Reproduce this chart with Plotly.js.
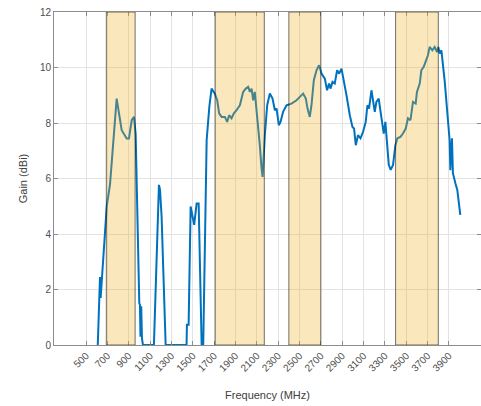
<!DOCTYPE html>
<html>
<head>
<meta charset="utf-8">
<script src="https://cdn.plot.ly/plotly-3.0.1.min.js"></script>
<style>
html,body{margin:0;padding:0;overflow:hidden;background:#fff;}
#chart{width:483px;height:406px;}
</style>
</head>
<body>
<div id="chart"></div>
<script>
// Frequency (MHz)
var freq = [610, 631, 637, 694, 725, 787, 834, 881, 902, 928, 949, 965, 999, 1005, 1010, 1017, 1024, 1033,
  1136, 1183, 1193, 1208, 1246, 1442, 1445, 1461, 1480, 1498, 1513, 1536, 1555, 1583, 1598, 1630, 1655, 1676,
  1707, 1729, 1747, 1770, 1801, 1822, 1841, 1863, 1885, 1910, 1941, 1972, 1997, 2019, 2035, 2051, 2066, 2081,
  2097, 2112, 2128, 2144, 2154, 2175, 2197, 2222, 2247, 2269, 2285, 2306, 2322, 2346, 2378, 2425, 2472, 2503,
  2534, 2559, 2575, 2596, 2612, 2634, 2659, 2683, 2706, 2737, 2758, 2777, 2790, 2809, 2830, 2852, 2871, 2893,
  2908, 2940, 2971, 2996, 3011, 3027, 3048, 3071, 3095, 3120, 3136, 3151, 3174, 3189, 3205, 3220, 3242, 3257,
  3276, 3289, 3304, 3320, 3336, 3354, 3376, 3398, 3417, 3445, 3469, 3495, 3516, 3539, 3563, 3588, 3600, 3626,
  3641, 3663, 3682, 3703, 3719, 3744, 3766, 3788, 3800, 3813, 3829, 3860, 3906, 3913, 3928, 3937, 3960, 3978, 4006];
// Gain (dBi)
var gain = [0, 2.45, 1.7, 5.0, 5.8, 8.88, 7.74, 7.44, 7.44, 8.1, 8.22, 7.6, 1.5, 1.45, 0.3, 1.4, 0.25, 0,
  0, 5.77, 5.6, 4.63, 0, 0, 0.73, 0.73, 4.99, 4.63, 4.33, 5.1, 5.1, 0, 0, 7.38, 8.58, 9.24,
  9.06, 8.82, 8.35, 8.22, 8.22, 8.04, 8.28, 8.17, 8.35, 8.46, 8.64, 9.12, 9.24, 9.3, 9.12, 9.24, 8.82, 9.12,
  8.52, 7.86, 7.2, 6.37, 6.06, 7.56, 8.64, 9.06, 8.88, 8.46, 8.52, 7.92, 8.04, 8.4, 8.64, 8.7, 8.82, 8.94,
  9.06, 8.88, 8.52, 8.22, 8.64, 9.54, 9.9, 10.08, 9.78, 9.6, 9.18, 9.42, 9.24, 9.48, 9.42, 9.9, 9.78, 9.96,
  9.6, 9.0, 8.28, 7.86, 7.8, 7.2, 7.56, 7.45, 7.68, 8.04, 8.64, 8.52, 9.18, 8.7, 8.4, 8.76, 8.88, 8.46,
  8.04, 7.62, 8.04, 7.2, 6.49, 6.31, 6.49, 7.2, 7.45, 7.5, 7.62, 7.8, 8.17, 8.1, 8.76, 8.7, 9.12, 9.42,
  9.9, 10.02, 10.2, 10.44, 10.74, 10.62, 10.74, 10.56, 10.74, 10.5, 10.62, 9.5, 7.38, 6.3, 7.45, 6.19, 5.83, 5.59, 4.69];
// Highlighted bands (MHz)
var bandStart = [690, 1710, 2400, 3400];
var bandEnd = [960, 2170, 2700, 3800];
// Tick labels
var xTicks = [500, 700, 900, 1100, 1300, 1500, 1700, 1900, 2100, 2300, 2500, 2700, 2900, 3100, 3300, 3500, 3700, 3900];
var yTicks = [0, 2, 4, 6, 8, 10, 12];

var shapes = bandStart.map(function(s, i) {
  return {
    type: 'rect', xref: 'x', yref: 'y', x0: s, x1: bandEnd[i], y0: 0, y1: 12,
    fillcolor: 'rgba(237,177,32,0.3)', line: {color: 'rgba(0,0,0,0.55)', width: 1}, layer: 'above'
  };
});

var trace = {
  x: freq, y: gain, type: 'scatter', mode: 'lines',
  line: {color: '#0072BD', width: 2}, hoverinfo: 'skip'
};

var axisCommon = {
  showline: true, linecolor: '#8c8c8c', linewidth: 1, mirror: 'ticks',
  ticks: 'inside', ticklen: 4, tickcolor: '#8c8c8c',
  showgrid: true, gridcolor: '#e3e3e3', gridwidth: 1, zeroline: false,
  tickfont: {family: 'Liberation Sans, Arial, sans-serif', size: 10, color: '#4d4d4d'}
};

var layout = {
  width: 483, height: 406,
  margin: {l: 54, r: 2, t: 12, b: 61},
  paper_bgcolor: '#ffffff', plot_bgcolor: '#ffffff',
  showlegend: false,
  shapes: shapes
};
layout.xaxis = Object.assign({}, axisCommon, {
  range: [200, 4200], tickmode: 'array', tickvals: xTicks, ticktext: xTicks.map(String),
  tickangle: -45,
  title: {text: 'Frequency (MHz)', font: {family: 'Liberation Sans, Arial, sans-serif', size: 11, color: '#404040'}, standoff: 18}
});
layout.yaxis = Object.assign({}, axisCommon, {
  range: [0, 12], tickmode: 'array', tickvals: yTicks, ticktext: yTicks.map(String),
  title: {text: 'Gain (dBi)', font: {family: 'Liberation Sans, Arial, sans-serif', size: 11, color: '#404040'}, standoff: 10}
});

Plotly.newPlot('chart', [trace], layout, {staticPlot: true, displayModeBar: false});
</script>
</body>
</html>
